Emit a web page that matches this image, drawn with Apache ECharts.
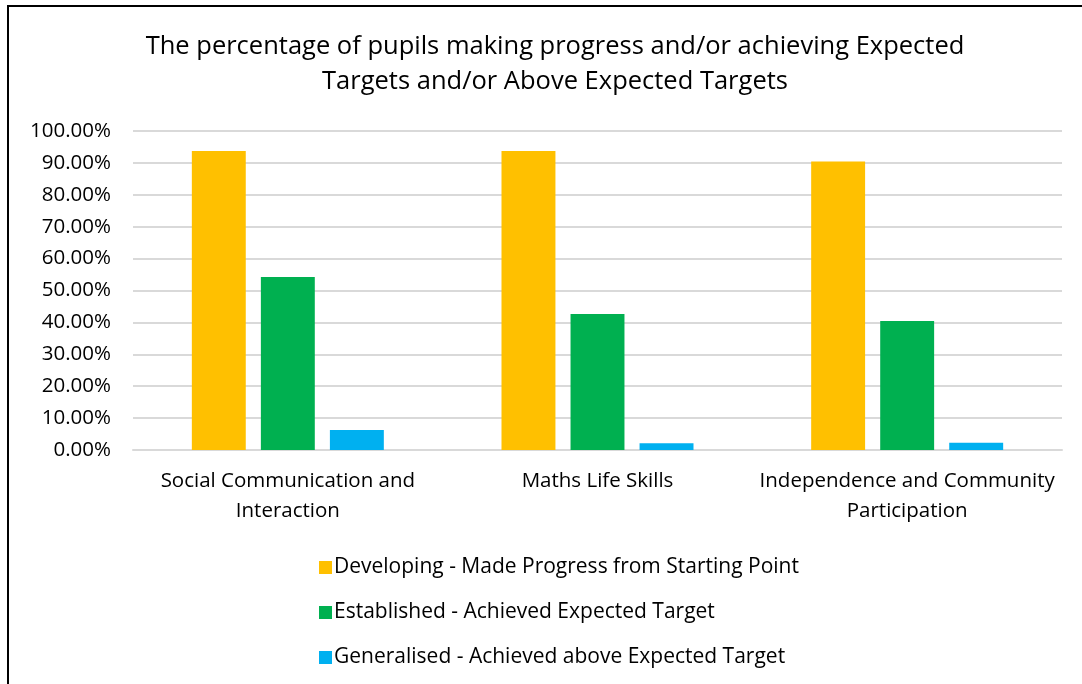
<!DOCTYPE html>
<html>
<head>
<meta charset="utf-8">
<script src="https://cdn.jsdelivr.net/npm/echarts@6/dist/echarts.min.js"></script>
<style>
  html, body { margin: 0; padding: 0; background: #fff; }
  #chart { width: 1082px; height: 684px; }
</style>
</head>
<body>
<div id="chart"></div>
<script>
  // categories and values (percent)
  var categories = ['Social Communication and\nInteraction', 'Maths Life Skills', 'Independence and Community\nParticipation'];
  var developing = [93.7, 93.7, 90.4];
  var established = [54.2, 42.6, 40.4];
  var generalised = [6.3, 2.1, 2.3];
  var seriesNames = [
    'Developing - Made Progress from Starting Point',
    'Established - Achieved Expected Target',
    'Generalised - Achieved above Expected Target'
  ];
  var colors = ['#FFC000', '#00B050', '#00B0F0'];

  var font = 'Open Sans';
  var chart = echarts.init(document.getElementById('chart'));

  chart.setOption({
    animation: false,
    color: colors,
    textStyle: { fontFamily: font },
    title: {
      text: 'The percentage of pupils making progress and/or achieving Expected\nTargets and/or Above Expected Targets',
      left: 550,
      top: 24,
      textAlign: 'center',
      textStyle: { fontFamily: font, fontSize: 25.5, fontWeight: 'normal', color: '#000', lineHeight: 35 }
    },
    graphic: [{
      type: 'rect',
      shape: { x: 8, y: 6, width: 1200, height: 800 },
      style: { fill: 'none', stroke: '#000', lineWidth: 2 },
      silent: true
    }],
    legend: {
      orient: 'vertical',
      left: 314,
      top: 552,
      itemWidth: 13,
      itemHeight: 13,
      itemGap: 24,
      icon: 'rect',
      textStyle: { fontFamily: font, fontSize: 21, color: '#000', padding: [0, 0, 0, -3] },
      data: seriesNames
    },
    grid: { left: 133, right: 20, top: 131, bottom: 234 },
    xAxis: {
      type: 'category',
      data: categories,
      axisLine: { lineStyle: { color: '#d9d9d9', width: 2 } },
      axisTick: { show: false },
      axisLabel: { fontFamily: font, fontSize: 20.5, color: '#000', lineHeight: 30, margin: 16, interval: 0 }
    },
    yAxis: {
      type: 'value',
      min: 0,
      max: 100,
      interval: 10,
      axisLine: { show: false },
      axisTick: { show: false },
      splitLine: { lineStyle: { color: '#d9d9d9', width: 2 } },
      axisLabel: {
        fontFamily: font, fontSize: 20.5, color: '#000', margin: 22,
        formatter: function (v) { return v.toFixed(2) + '%'; }
      }
    },
    series: [
      { name: seriesNames[0], type: 'bar', data: developing, barGap: '28%', barCategoryGap: '38%' },
      { name: seriesNames[1], type: 'bar', data: established, barGap: '28%', barCategoryGap: '38%' },
      { name: seriesNames[2], type: 'bar', data: generalised, barGap: '28%', barCategoryGap: '38%' }
    ]
  });
</script>
</body>
</html>
